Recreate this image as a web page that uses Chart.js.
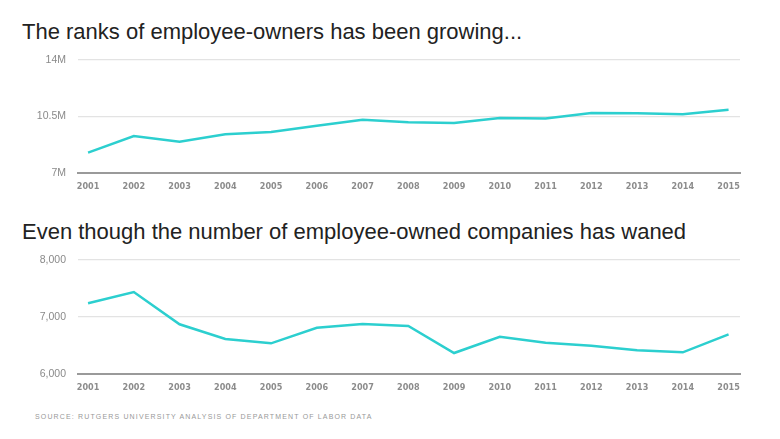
<!DOCTYPE html>
<html><head><meta charset="utf-8">
<script src="https://cdn.jsdelivr.net/npm/chart.js@4"></script>
<style>
html,body{margin:0;padding:0;background:#fff;width:780px;height:439px;overflow:hidden;font-family:"Liberation Sans",Arial,sans-serif;}
.t{position:absolute;left:22px;font-size:22px;color:#222;white-space:nowrap;line-height:1;}
.c{position:absolute;left:0;width:780px;height:150px;}
#src{position:absolute;left:35px;top:413px;font-size:7px;letter-spacing:1.15px;color:#999;white-space:nowrap;line-height:1;}
</style></head><body>
<div class="t" id="t1" style="top:21px">The ranks of employee-owners has been growing...</div>
<div class="c" style="top:50px"><canvas id="c1" width="780" height="150"></canvas></div>
<div class="t" id="t2" style="top:221px">Even though the number of employee-owned companies has waned</div>
<div class="c" style="top:250px"><canvas id="c2" width="780" height="150"></canvas></div>
<div id="src">SOURCE: RUTGERS UNIVERSITY ANALYSIS OF DEPARTMENT OF LABOR DATA</div>
<script>
const years = [2001,2002,2003,2004,2005,2006,2007,2008,2009,2010,2011,2012,2013,2014,2015];
const employeeOwnersM = [8.26,9.29,8.94,9.40,9.54,9.93,10.30,10.14,10.10,10.41,10.37,10.72,10.70,10.64,10.92];
const companies = [7240,7439,6872,6614,6538,6812,6877,6842,6368,6654,6549,6496,6415,6380,6696];
const ticks1 = [7,10.5,14];
const ticks2 = [6000,7000,8000];

const LINE = '#2ccfcf';
function makeChart(id, vals, yTicks, fmt, xAxisH){
  new Chart(document.getElementById(id), {
    type:'line',
    data:{datasets:[{data:years.map((y,i)=>({x:y,y:vals[i]})),borderColor:LINE,borderWidth:2.5,pointRadius:0,tension:0,fill:false}]},
    options:{
      responsive:false,animation:false,
      layout:{padding:{top:10,right:40,bottom:0,left:0}},
      plugins:{legend:{display:false},tooltip:{enabled:false}},
      scales:{
        x:{type:'linear',min:2000.78,max:2015.25,
          afterBuildTicks:s=>{s.ticks=years.map(v=>({value:v}));},
          afterFit:s=>{s.height=xAxisH;s.paddingLeft=0;s.paddingRight=0;},
          grid:{display:false},
          border:{display:true,color:'#9a9a9a',width:2},
          ticks:{padding:0,maxRotation:0,autoSkip:false,color:'#8c8c8c',font:{family:'"DejaVu Sans Condensed",sans-serif',size:9,weight:'bold'},callback:v=>String(v)}
        },
        y:{min:yTicks[0],max:yTicks[yTicks.length-1],
          afterBuildTicks:s=>{s.ticks=yTicks.map(v=>({value:v}));},
          afterFit:s=>{s.width=78;s.paddingTop=0;s.paddingBottom=0;},
          border:{display:false},
          grid:{drawTicks:false,color:c=>c.tick&&c.tick.value===yTicks[0]?'rgba(0,0,0,0)':'#e3e3e3',lineWidth:1.2},
          ticks:{padding:12,color:'#8a8a8a',font:{family:'"Liberation Sans",Arial,sans-serif',size:10.5},callback:fmt}
        }
      }
    }
  });
}
makeChart('c1', employeeOwnersM, ticks1, v=>v+'M', 27);
makeChart('c2', companies, ticks2, v=>v.toLocaleString('en-US'), 26);
</script>
</body></html>
